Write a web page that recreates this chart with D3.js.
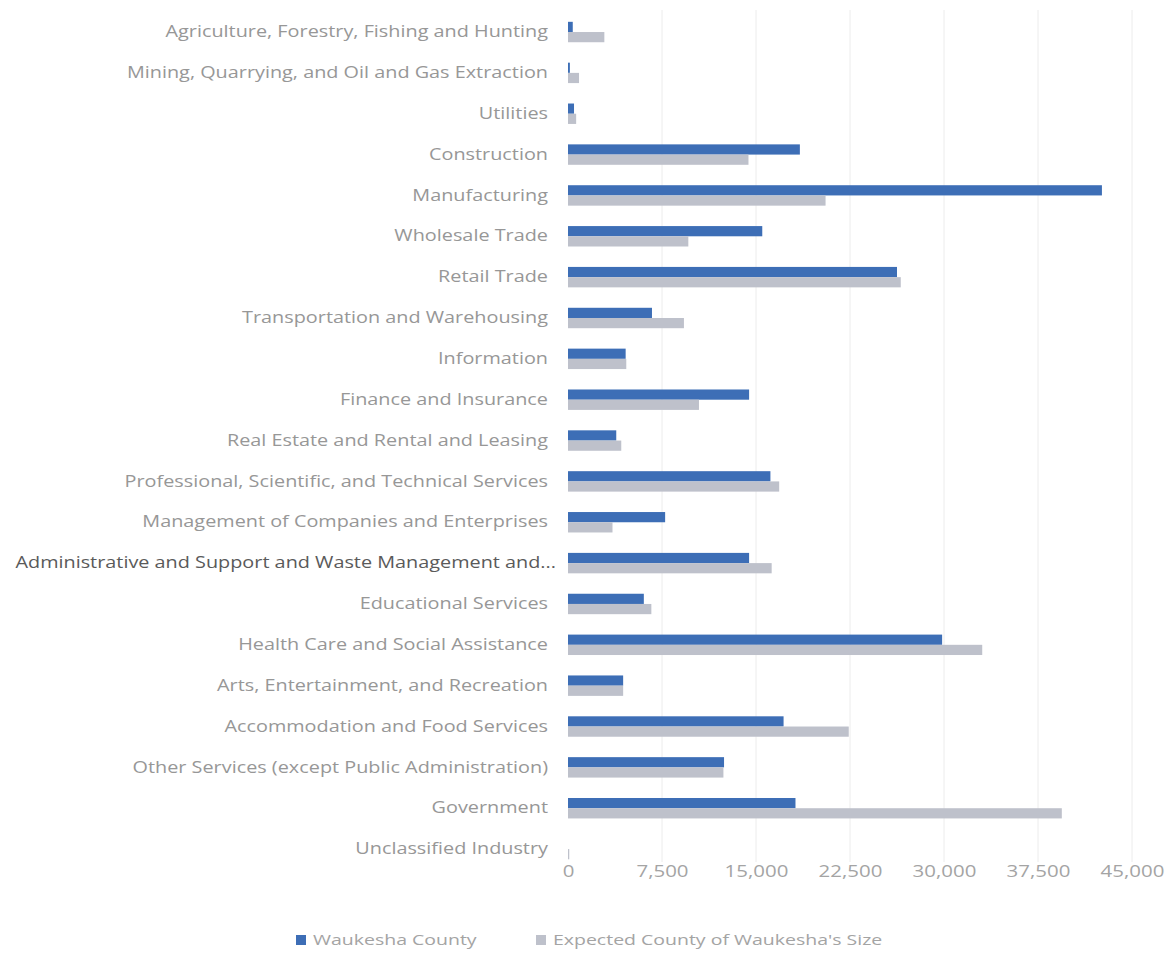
<!DOCTYPE html>
<html>
<head>
<meta charset="utf-8">
<script src="https://cdn.jsdelivr.net/npm/d3@7"></script>
<style>
  html, body { margin: 0; padding: 0; background: #ffffff; }
  svg { display: block; }
  text { font-family: "Open Sans", "Noto Sans", sans-serif; }
</style>
</head>
<body>
<svg id="chart" width="1166" height="960"></svg>
<script>
// Industry employment, Waukesha County vs. expected for a county of its size
const categories = [
  "Agriculture, Forestry, Fishing and Hunting",
  "Mining, Quarrying, and Oil and Gas Extraction",
  "Utilities",
  "Construction",
  "Manufacturing",
  "Wholesale Trade",
  "Retail Trade",
  "Transportation and Warehousing",
  "Information",
  "Finance and Insurance",
  "Real Estate and Rental and Leasing",
  "Professional, Scientific, and Technical Services",
  "Management of Companies and Enterprises",
  "Administrative and Support and Waste Management and...",
  "Educational Services",
  "Health Care and Social Assistance",
  "Arts, Entertainment, and Recreation",
  "Accommodation and Food Services",
  "Other Services (except Public Administration)",
  "Government",
  "Unclassified Industry"
];

const waukeshaCounty = [
  380, 150, 480, 18500, 42600, 15500, 26250, 6700, 4600, 14450, 3850,
  16150, 7750, 14450, 6050, 29850, 4400, 17200, 12450, 18150, 0
];

const expectedSize = [
  2900, 880, 650, 14400, 20550, 9600, 26550, 9250, 4650, 10450, 4250,
  16850, 3550, 16250, 6650, 33050, 4400, 22400, 12400, 39400, 100
];

const seriesNames = ["Waukesha County", "Expected County of Waukesha's Size"];
const tickValues = [0, 7500, 15000, 22500, 30000, 37500, 45000];
const colors = ["#3d6eb6", "#bec1cb"];

// the typeface is set wide, so glyphs are stretched horizontally
const wide = 1.24;

const svg = d3.select("#chart");

const x = d3.scaleLinear().domain([0, 45000]).range([568, 1132]);
const y = d3.scaleBand().domain(categories).range([11.6, 869.5])
  .paddingInner(0.5).paddingOuter(0.25);
const ySub = d3.scaleBand().domain([0, 1]).range([0, y.bandwidth()]);

// vertical gridlines
svg.append("g")
  .selectAll("line")
  .data(tickValues.slice(1))
  .join("line")
  .attr("x1", d => x(d)).attr("x2", d => x(d))
  .attr("y1", 10).attr("y2", 862)
  .attr("stroke", "#ececec")
  .attr("stroke-width", 1);

// bars
const rows = categories.map((c, i) => ({ c, vals: [waukeshaCounty[i], expectedSize[i]] }));
const groups = svg.append("g")
  .selectAll("g")
  .data(rows)
  .join("g")
  .attr("transform", d => `translate(0,${y(d.c)})`);

groups.selectAll("rect")
  .data(d => d.vals.map((v, k) => ({ v, k })))
  .join("rect")
  .attr("x", x(0))
  .attr("y", d => ySub(d.k))
  .attr("width", d => Math.max(0, x(d.v) - x(0)))
  .attr("height", ySub.bandwidth())
  .attr("fill", d => colors[d.k]);

// category axis
const yAxis = svg.append("g")
  .attr("transform", `translate(${x(0) - 20},0)`)
  .call(d3.axisLeft(y).tickSize(0).tickPadding(0));
yAxis.select(".domain").remove();
yAxis.selectAll(".tick text")
  .attr("x", 0)
  .attr("font-size", 16)
  .attr("fill", d => d.startsWith("Administrative") ? "#5a5a5a" : "#979797")
  .attr("transform", d => d.startsWith("Administrative")
    ? `translate(8,0) scale(${wide},1)` : `scale(${wide},1)`);

// value axis
const xAxis = svg.append("g")
  .attr("transform", "translate(0,863)")
  .call(d3.axisBottom(x).tickValues(tickValues).tickSize(0).tickPadding(3)
    .tickFormat(d3.format(",")));
xAxis.select(".domain").remove();
xAxis.selectAll(".tick text")
  .attr("font-size", 15.5)
  .attr("fill", "#a4a4a4")
  .attr("transform", "scale(1.32,1)");

// legend
const legendX = [296, 536];
const legend = svg.append("g")
  .selectAll("g")
  .data(seriesNames)
  .join("g")
  .attr("transform", (d, i) => `translate(${legendX[i]},940)`);
legend.append("rect")
  .attr("x", 0).attr("y", -5)
  .attr("width", 10).attr("height", 10)
  .attr("fill", (d, i) => colors[i]);
legend.append("text")
  .attr("x", 0).attr("y", 0)
  .attr("dy", "0.35em")
  .attr("font-size", 15)
  .attr("fill", "#a4a4a4")
  .attr("transform", `translate(17,0) scale(1.3,1)`)
  .text(d => d);
</script>
</body>
</html>
